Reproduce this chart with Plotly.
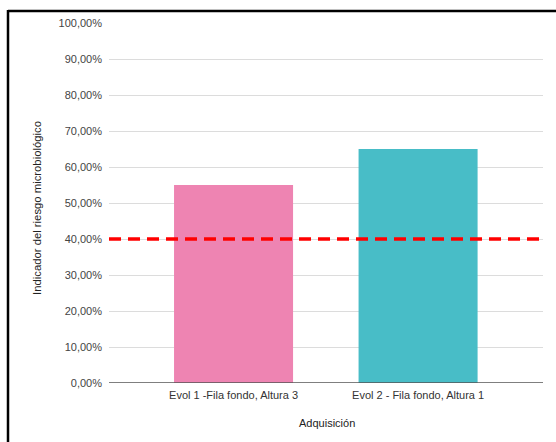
import plotly.graph_objects as go

# Chart data
categories = ["Evol 1 -Fila fondo, Altura 3", "Evol 2 - Fila fondo, Altura 1"]
values = [55.0, 65.0]          # percent
bar_colors = ["#ee84b2", "#48bdc7"]
threshold = 40.0               # percent
y_ticks = [0, 10, 20, 30, 40, 50, 60, 70, 80, 90, 100]
y_tick_labels = [f"{v:.2f}".replace(".", ",") + "%" for v in y_ticks]

W, H = 556, 442
ml, mr, mt, mb = 109, 13, 22.5, 58.5
plot_w = W - ml - mr
plot_h = H - mt - mb


def px_x(px):
    """Horizontal pixel position -> paper coordinate."""
    return (px - ml) / plot_w


def px_y(py):
    """Vertical pixel position (from top) -> paper coordinate."""
    return (H - mb - py) / plot_h


fig = go.Figure()

fig.add_trace(go.Bar(
    x=[0, 1],
    y=values,
    width=0.645,
    marker=dict(color=bar_colors, line=dict(width=0)),
    hoverinfo="skip",
    showlegend=False,
))

x_range = [-0.675, 1.677]

# Threshold line across the plot area
fig.add_trace(go.Scatter(
    x=x_range,
    y=[threshold, threshold],
    mode="lines",
    line=dict(color="#ff0000", width=3.5, dash="12px,7px"),
    hoverinfo="skip",
    showlegend=False,
))

font_family = "Liberation Sans, Arial, sans-serif"

fig.update_layout(
    width=W,
    height=H,
    margin=dict(l=ml, r=mr, t=mt, b=mb),
    paper_bgcolor="white",
    plot_bgcolor="white",
    font=dict(family=font_family, size=11, color="#444444"),
    xaxis=dict(
        range=x_range,
        tickvals=[0, 1],
        ticktext=categories,
        showgrid=False,
        zeroline=False,
        showline=False,
        ticks="",
        ticklabelstandoff=4,
        tickfont=dict(size=11, color="#333333"),
    ),
    yaxis=dict(
        range=[0, 100],
        tickvals=y_ticks,
        ticktext=y_tick_labels,
        showgrid=True,
        gridcolor="#dcdcdc",
        gridwidth=1,
        zeroline=False,
        showline=False,
        ticks="",
        ticklabelstandoff=6,
        tickfont=dict(size=11, color="#444444"),
    ),
    annotations=[
        dict(text="Adquisición", xref="paper", yref="paper",
             x=px_x(327), y=px_y(423.5), xanchor="center", yanchor="middle",
             showarrow=False, font=dict(size=11, color="#222222")),
        dict(text="Indicador del riesgo microbiológico", xref="paper", yref="paper",
             x=px_x(37), y=px_y(208), xanchor="center", yanchor="middle",
             textangle=-90, showarrow=False,
             font=dict(size=11.3, color="#222222")),
    ],
    shapes=[
        # baseline at 0 %
        dict(type="line", xref="paper", yref="y", x0=0, x1=1, y0=0, y1=0,
             line=dict(color="#555555", width=1.5), layer="above"),
        # frame lines along the top and left edges of the image
        dict(type="line", xref="paper", yref="paper",
             x0=px_x(8), x1=px_x(W + 5),
             y0=px_y(10.5), y1=px_y(10.5),
             line=dict(color="#000000", width=2.5)),
        dict(type="line", xref="paper", yref="paper",
             x0=px_x(8), x1=px_x(8),
             y0=px_y(9.5), y1=px_y(H + 5),
             line=dict(color="#000000", width=2.5)),
    ],
)

fig.write_html("out.html")
